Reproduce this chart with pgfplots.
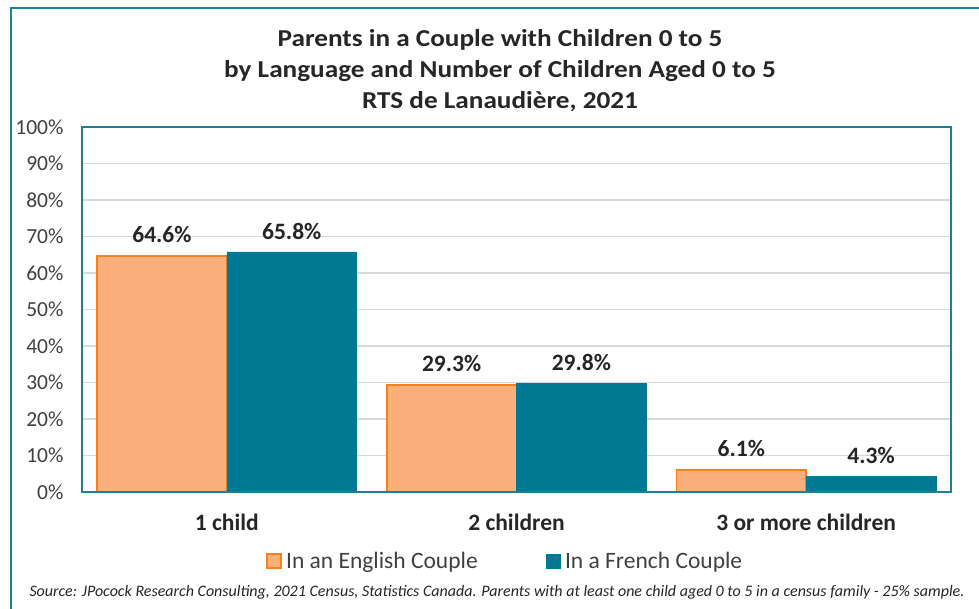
\documentclass[border=0pt]{standalone}
\usepackage{fontspec}
\setmainfont{Carlito}
\newfontfamily\titlefont{Carlito}[FakeStretch=1.12]
\usepackage{pgfplots}
\pgfplotsset{compat=1.18}
\definecolor{cOrangeFill}{HTML}{FBAF7B}
\definecolor{cOrangeLine}{HTML}{F58220}
\definecolor{cTeal}{HTML}{007A94}
\definecolor{cFrame}{HTML}{1E7F96}
\definecolor{cGrid}{HTML}{D9D9D9}
\definecolor{cText}{HTML}{404040}

\begin{document}
\begin{tikzpicture}[x=1pt, y=1pt]
\path[use as bounding box] (0,0) rectangle (979,608);
%% outer chart frame (cut off at right and bottom)
\draw[cFrame, line width=2.5pt] (11,-10) -- (11,600) -- (995,600);
%% title
\node[font=\titlefont\fontsize{24.3}{31}\selectfont\bfseries, align=center, text=black!85]
  at (500,537) {Parents in a Couple with Children 0 to 5\\
  by Language and Number of Children Aged 0 to 5\\
  RTS de Lanaudière, 2021};

\begin{axis}[
  at={(82pt,116pt)}, anchor=south west,
  scale only axis, width=869pt, height=365pt,
  ybar, bar width=0.448,
  xmin=-0.5, xmax=2.5, ymin=0, ymax=100,
  xtick={0,1,2},
  xticklabels={1 child, 2 children, 3 or more children},
  x tick label style={font=\fontsize{23.5}{26}\selectfont\bfseries, text=black!85, yshift=-18pt},
  ytick={0,10,...,100},
  yticklabels={0\%,10\%,20\%,30\%,40\%,50\%,60\%,70\%,80\%,90\%,100\%},
  y tick label style={font=\fontsize{21.5}{24}\selectfont, text=cText, xshift=-15pt},
  major tick length=0pt,
  ymajorgrids, grid style={cGrid, line width=1.3pt},
  axis line style={cFrame, line width=2pt},
  nodes near coords={\pgfmathprintnumber[fixed,fixed zerofill,precision=1,assume math mode=true]{\pgfplotspointmeta}\%},
  nodes near coords style={font=\fontsize{23.5}{26}\selectfont\bfseries, text=black!85, anchor=south, yshift=9pt},
  legend columns=2,
  legend style={at={(0.487,-0.189)}, anchor=center, draw=none, fill=none,
    font=\fontsize{23.5}{26}\selectfont, text=cText,
    /tikz/every even column/.append style={column sep=66pt}},
  legend image code/.code={\draw[#1] (0pt,-7pt) rectangle (14pt,7pt);
    \path[draw=none, fill=none] (0pt,0pt) rectangle (17pt,0pt);},
]
\addplot[fill=cOrangeFill, draw=cOrangeLine, line width=1.8pt, bar shift=-0.224]
  coordinates {(0,64.6) (1,29.3) (2,6.1)};
\addlegendentry{In an English Couple}
\addplot[fill=cTeal, draw=cTeal, line width=0.5pt, bar shift=0.224]
  coordinates {(0,65.8) (1,29.8) (2,4.3)};
\addlegendentry{In a French Couple}
\draw[cFrame, line width=2pt] (rel axis cs:0,0) rectangle (rel axis cs:1,1);
\end{axis}

%% source note
\node[font=\fontsize{16}{18}\selectfont\itshape, text=black!85] at (497,16)
  {Source: JPocock Research Consulting, 2021 Census, Statistics Canada. Parents with at least one child aged 0 to 5 in a census family - 25\% sample.};
\end{tikzpicture}
\end{document}
